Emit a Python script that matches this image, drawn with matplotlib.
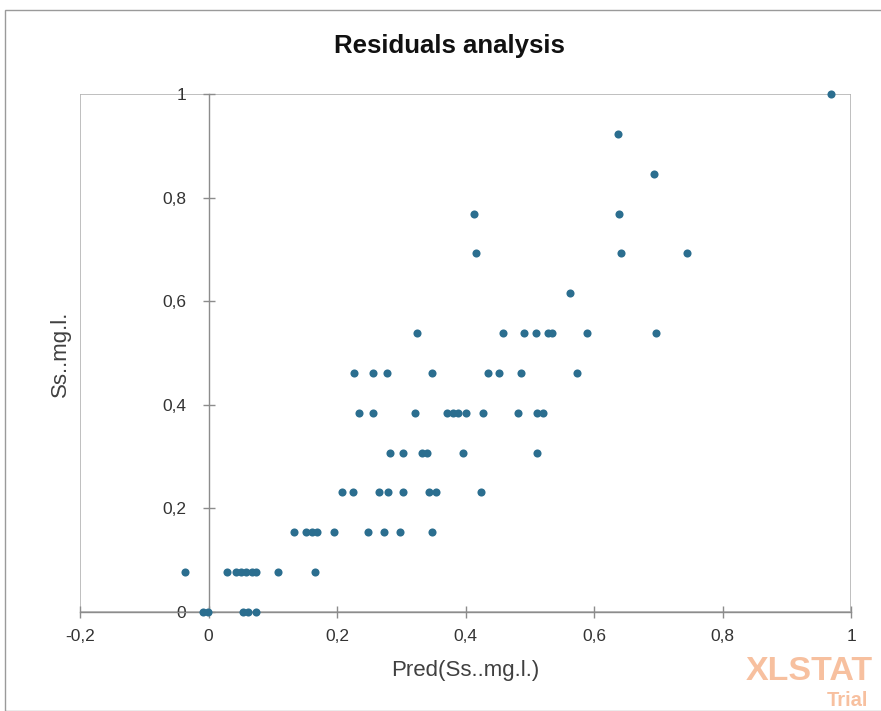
import matplotlib
matplotlib.use("Agg")
import matplotlib.pyplot as plt
from matplotlib.patches import Rectangle

plt.rcParams['font.family'] = ['Liberation Sans', 'DejaVu Sans']

y_levels = [0/13, 1/13, 2/13, 3/13, 4/13, 5/13, 6/13, 7/13, 8/13, 9/13, 10/13, 11/13, 12/13, 13/13]
pred_by_level = [
    [-0.009, -0.001, 0.054, 0.061, 0.074],
    [-0.036, 0.029, 0.043, 0.051, 0.059, 0.067, 0.074, 0.108, 0.166],
    [0.133, 0.152, 0.161, 0.169, 0.195, 0.248, 0.273, 0.298, 0.348],
    [0.208, 0.225, 0.265, 0.279, 0.303, 0.343, 0.354, 0.424],
    [0.282, 0.303, 0.332, 0.340, 0.396, 0.511],
    [0.234, 0.256, 0.321, 0.371, 0.380, 0.388, 0.401, 0.427, 0.482, 0.511, 0.521],
    [0.226, 0.256, 0.278, 0.348, 0.435, 0.452, 0.486, 0.574],
    [0.324, 0.458, 0.491, 0.510, 0.528, 0.535, 0.589, 0.696],
    [0.563],
    [0.416, 0.642, 0.745],
    [0.413, 0.639],
    [0.693],
    [0.637],
    [0.969],
]
x_ticks = [-0.2, 0, 0.2, 0.4, 0.6, 0.8, 1]
x_tick_labels = ['-0,2', '0', '0,2', '0,4', '0,6', '0,8', '1']
y_ticks = [0, 0.2, 0.4, 0.6, 0.8, 1]
y_tick_labels = ['0', '0,2', '0,4', '0,6', '0,8', '1']

pred = []
obs = []
for lvl, vals in zip(y_levels, pred_by_level):
    for v in vals:
        pred.append(v)
        obs.append(lvl)

W, H = 881, 711
fig = plt.figure(figsize=(W / 100, H / 100), dpi=100)
fig.patch.set_facecolor('white')

# outer border
fig.patches.append(Rectangle((5 / W, 0), 1.2, 1 - 10 / H, transform=fig.transFigure,
                             fill=False, edgecolor='#9a9a9a', linewidth=1.0))

left, right, top, bottom = 80, 851, 94, 612
ax = fig.add_axes([left / W, 1 - bottom / H, (right - left) / W, (bottom - top) / H])
ax.set_xlim(-0.2, 1)
ax.set_ylim(0, 1)

for s in ['top', 'right']:
    ax.spines[s].set_visible(False)
ax.spines['left'].set_position(('data', 0))
ax.spines['left'].set_color('#8c8c8c')
ax.spines['bottom'].set_color('#8c8c8c')
ax.spines['left'].set_linewidth(1.0)
ax.spines['bottom'].set_linewidth(1.0)

# plot-area frame
ax.add_patch(Rectangle((0, 0), 1, 1, transform=ax.transAxes, fill=False,
                       edgecolor='#b4b4b4', linewidth=1.2, zorder=0))

ax.scatter(pred, obs, s=34, color='#2b6e8f', zorder=3, clip_on=False, linewidths=0)

ax.set_xticks(x_ticks)
ax.set_xticklabels(x_tick_labels)
ax.set_yticks(y_ticks)
ax.set_yticklabels(y_tick_labels)
ax.tick_params(axis='both', direction='inout', length=8, width=1, color='#8c8c8c',
               labelsize=12.5, labelcolor='#333333')
ax.tick_params(axis='x', pad=8)
ax.tick_params(axis='y', pad=12)

ax.set_xlabel('Pred(Ss..mg.l.)', fontsize=16, color='#404040', labelpad=12)
fig.text(60 / W, 1 - 354 / H, 'Ss..mg.l.', rotation=90, fontsize=16, color='#404040',
         ha='center', va='center')

fig.text(449 / W, 1 - 46 / H, 'Residuals analysis', fontsize=18.5, fontweight='bold',
         color='#111111', ha='center', va='center')

# watermark
fig.text(746 / W, 1 - 672 / H, 'XLSTAT', fontsize=24.5, fontweight='bold',
         color='#f7b995', ha='left', va='center', alpha=0.9)
fig.text(827 / W, 1 - 700 / H, 'Trial', fontsize=14.5, fontweight='bold',
         color='#f7b995', ha='left', va='center', alpha=0.9)

fig.savefig('out.png', dpi=100, facecolor='white')
